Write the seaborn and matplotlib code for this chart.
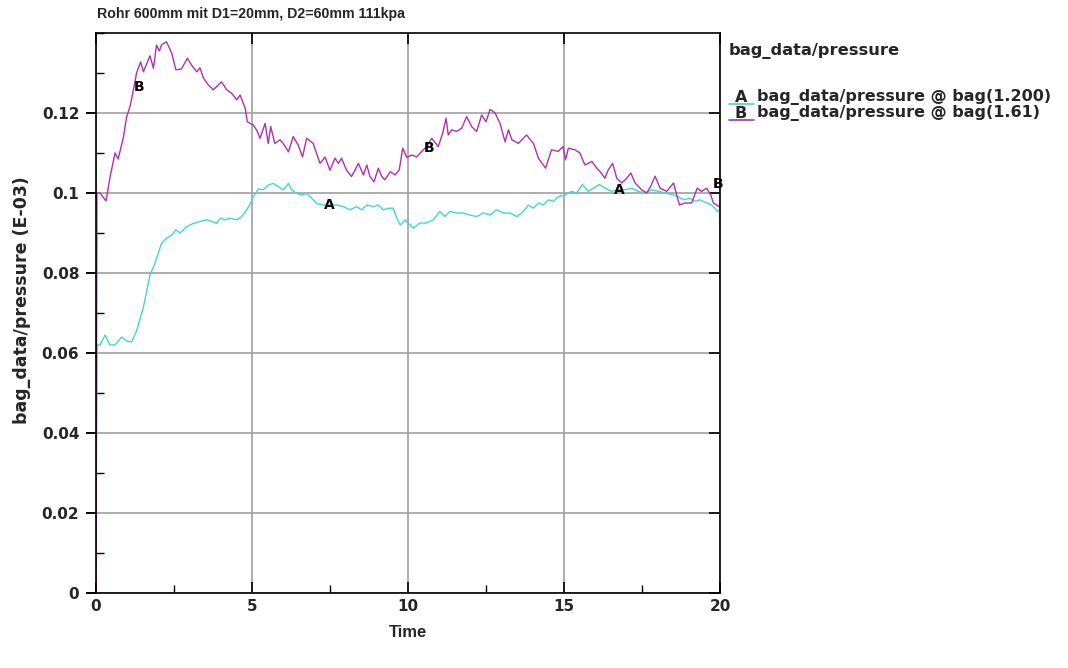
import matplotlib
matplotlib.use("Agg")
import matplotlib.pyplot as plt
from matplotlib.lines import Line2D
from matplotlib.markers import TICKLEFT
from matplotlib.ticker import MultipleLocator
import numpy as np
import pandas as pd
import seaborn as sns

# curve B: bag(1.61)
time_b = [0.00, 0.03, 0.13, 0.32, 0.45, 0.61, 0.71, 0.88, 0.98, 1.09, 1.20, 1.30, 1.43, 1.52,
          1.73, 1.84, 1.94, 2.03, 2.10, 2.26, 2.43, 2.56, 2.74, 2.93, 3.06, 3.23, 3.33, 3.44,
          3.60, 3.76, 3.92, 4.02, 4.19, 4.35, 4.51, 4.62, 4.78, 4.85, 4.94, 5.04, 5.15, 5.26,
          5.42, 5.52, 5.60, 5.73, 5.90, 6.00, 6.17, 6.32, 6.48, 6.62, 6.75, 6.96, 7.18, 7.34,
          7.50, 7.66, 7.77, 7.87, 8.03, 8.19, 8.41, 8.57, 8.68, 8.78, 8.91, 9.05, 9.16, 9.26,
          9.43, 9.59, 9.72, 9.83, 9.96, 10.12, 10.28, 10.44, 10.60, 10.76, 10.97, 11.11, 11.22,
          11.29, 11.40, 11.56, 11.72, 11.88, 12.04, 12.20, 12.36, 12.50, 12.63, 12.79, 12.95,
          13.11, 13.22, 13.33, 13.54, 13.80, 14.02, 14.18, 14.41, 14.60, 14.81, 14.97, 15.05,
          15.14, 15.35, 15.51, 15.67, 15.89, 16.05, 16.15, 16.31, 16.42, 16.56, 16.69, 16.85,
          17.01, 17.14, 17.28, 17.49, 17.65, 17.78, 17.92, 18.08, 18.29, 18.51, 18.70, 18.88,
          19.09, 19.27, 19.41, 19.57, 19.70, 19.79, 19.89, 20.00]
pres_b = [0.000, 0.100, 0.100, 0.098, 0.104, 0.110, 0.1085, 0.114, 0.119, 0.1216, 0.1258, 0.130,
          0.1328, 0.1303, 0.1343, 0.1312, 0.137, 0.1355, 0.137, 0.1378, 0.1349, 0.1308, 0.131,
          0.1337, 0.132, 0.1303, 0.1313, 0.1288, 0.127, 0.1258, 0.127, 0.1278, 0.1258, 0.1249,
          0.1233, 0.1245, 0.1212, 0.1178, 0.1174, 0.117, 0.1157, 0.1137, 0.1174, 0.1124, 0.1166,
          0.1124, 0.1133, 0.1124, 0.1103, 0.1141, 0.112, 0.109, 0.1137, 0.1124, 0.1074, 0.109,
          0.1057, 0.1087, 0.1074, 0.1087, 0.1057, 0.1041, 0.1074, 0.1045, 0.107, 0.1041, 0.1028,
          0.1062, 0.1041, 0.1033, 0.1053, 0.1045, 0.1058, 0.1112, 0.1089, 0.1095, 0.109, 0.1104,
          0.1116, 0.1137, 0.1116, 0.1149, 0.1187, 0.1145, 0.1158, 0.1154, 0.1162, 0.1191, 0.1166,
          0.1154, 0.1195, 0.1178, 0.1209, 0.120, 0.1174, 0.1128, 0.1158, 0.1133, 0.1124, 0.1145,
          0.1124, 0.1087, 0.1062, 0.1108, 0.1104, 0.1116, 0.1083, 0.1112, 0.1108, 0.110, 0.107,
          0.1079, 0.1062, 0.1054, 0.1037, 0.1058, 0.1074, 0.1037, 0.1025, 0.1037, 0.105, 0.1025,
          0.1008, 0.100, 0.1017, 0.1042, 0.1012, 0.1004, 0.1025, 0.097, 0.0975, 0.0975, 0.1012,
          0.1004, 0.1012, 0.0996, 0.0975, 0.097, 0.0965]

# curve A: bag(1.200)
time_a = [0.00, 0.03, 0.13, 0.29, 0.45, 0.61, 0.82, 0.98, 1.14, 1.30, 1.52, 1.73, 1.89, 2.10,
          2.26, 2.43, 2.56, 2.69, 2.91, 3.12, 3.33, 3.55, 3.72, 3.87, 3.98, 4.14, 4.30, 4.51,
          4.67, 4.83, 4.94, 5.04, 5.20, 5.36, 5.52, 5.68, 5.84, 6.00, 6.17, 6.27, 6.43, 6.59,
          6.75, 6.91, 7.07, 7.29, 7.50, 7.71, 7.93, 8.14, 8.35, 8.51, 8.68, 8.89, 9.05, 9.21,
          9.37, 9.53, 9.64, 9.75, 9.91, 10.07, 10.17, 10.38, 10.60, 10.81, 11.02, 11.18, 11.34,
          11.56, 11.77, 11.98, 12.20, 12.41, 12.63, 12.84, 13.06, 13.27, 13.49, 13.70, 13.86,
          14.02, 14.18, 14.34, 14.50, 14.66, 14.82, 15.03, 15.24, 15.40, 15.59, 15.78, 15.94,
          16.13, 16.31, 16.52, 16.74, 16.95, 17.17, 17.38, 17.60, 17.81, 18.03, 18.24, 18.46,
          18.67, 18.83, 19.04, 19.20, 19.36, 19.57, 19.73, 19.84, 19.91, 20.00]
pres_a = [0.015, 0.062, 0.062, 0.0645, 0.062, 0.062, 0.064, 0.063, 0.0628, 0.0655, 0.0715, 0.0795,
          0.0824, 0.0874, 0.0887, 0.0895, 0.0908, 0.090, 0.0916, 0.0924, 0.0929, 0.0933, 0.0929,
          0.0924, 0.0937, 0.0933, 0.0937, 0.0933, 0.0941, 0.0958, 0.0972, 0.099, 0.101, 0.1008,
          0.102, 0.1024, 0.1016, 0.1008, 0.1024, 0.1008, 0.0999, 0.0995, 0.0999, 0.0987, 0.0974,
          0.097, 0.097, 0.097, 0.0966, 0.0958, 0.0966, 0.0958, 0.097, 0.0966, 0.097, 0.0958,
          0.0962, 0.0962, 0.0937, 0.092, 0.0933, 0.092, 0.0912, 0.0925, 0.0925, 0.0933, 0.0954,
          0.0941, 0.0954, 0.095, 0.095, 0.0945, 0.0941, 0.095, 0.0945, 0.0958, 0.095, 0.095,
          0.0941, 0.0954, 0.097, 0.0962, 0.0975, 0.097, 0.0983, 0.0979, 0.0991, 0.0995, 0.1004,
          0.100, 0.1021, 0.1004, 0.1012, 0.1021, 0.1012, 0.1004, 0.1008, 0.1008, 0.1012, 0.1004,
          0.100, 0.1008, 0.1004, 0.100, 0.0996, 0.0991, 0.0983, 0.0987, 0.0979, 0.0983, 0.0975,
          0.097, 0.0962, 0.0954, 0.0958]

# where the curve letters sit
label_times_a = [7.47, 16.76]
label_times_b = [1.24, 10.55, 19.8]

x_ticks = [0, 5, 10, 15, 20]
y_ticks = [0, 0.02, 0.04, 0.06, 0.08, 0.1, 0.12]
y_tick_labels = ["0", "0.02", "0.04", "0.06", "0.08", "0.1", "0.12"]

color_a = "#40d8d0"
color_b = "#b030b0"

sns.set_style("white", {"xtick.bottom": True, "ytick.left": True})
plt.rcParams["font.family"] = ["DejaVu Sans"]
narrow = ["Liberation Sans", "DejaVu Sans"]

df_a = pd.DataFrame({"time": time_a, "pressure": pres_a})
df_b = pd.DataFrame({"time": time_b, "pressure": pres_b})

fig = plt.figure(figsize=(10.68, 6.68), dpi=100)
ax = fig.add_axes([96 / 1068, 1 - 593 / 668, 624 / 1068, 560 / 668])

sns.lineplot(data=df_a, x="time", y="pressure", color=color_a, lw=1.0, ax=ax,
             estimator=None, sort=False)
sns.lineplot(data=df_b, x="time", y="pressure", color=color_b, lw=1.0, ax=ax,
             estimator=None, sort=False)

for t in label_times_a:
    ax.annotate("A", (t, np.interp(t, time_a, pres_a)), ha="center", va="center",
                fontsize=10, fontweight="bold", color="black")
for t, dy in zip(label_times_b, [-3, 0, 14]):
    ax.annotate("B", (t, np.interp(t, time_b, pres_b)), xytext=(3, dy),
                textcoords="offset points", ha="center", va="center",
                fontsize=10, fontweight="bold", color="black")

ax.set_xlim(0, 20)
ax.set_ylim(0, 0.14)
ax.set_xticks(x_ticks)
ax.set_xticklabels([str(v) for v in x_ticks])
ax.set_yticks(y_ticks)
ax.set_yticklabels(y_tick_labels)
ax.xaxis.set_minor_locator(MultipleLocator(2.5))
ax.yaxis.set_minor_locator(MultipleLocator(0.01))
ax.grid(True, which="major", color="#a0a0a0", lw=1.2)

ax.tick_params(axis="x", which="major", direction="in", length=8, width=1.2,
               color="black", labelsize=11, top=True, bottom=True, pad=4)
ax.tick_params(axis="y", which="major", direction="in", length=8, width=1.2,
               color="black", labelsize=11, left=False, right=True, pad=12)
ax.tick_params(axis="both", which="minor", direction="in", length=6, width=1,
               color="black", bottom=True, left=True, top=False, right=False)
# short outward ticks next to the y labels
ax.plot(np.zeros(len(y_ticks)), y_ticks, ls="none", marker=TICKLEFT, ms=7, mew=1.4,
        color="black", transform=ax.get_yaxis_transform(), clip_on=False, zorder=5)

for lab in ax.get_xticklabels() + ax.get_yticklabels():
    lab.set_fontweight("bold")
for s in ax.spines.values():
    s.set_visible(True)
    s.set_color("black")
    s.set_linewidth(1.2)

ax.set_xlabel("Time", fontsize=12, fontweight="bold", family=narrow, labelpad=8)
ax.set_ylabel("bag_data/pressure (E-03)", fontsize=12.5, fontweight="bold")
ax.yaxis.set_label_coords(-0.104, 0.523)

fig.text(97 / 1068, 1 - 14 / 668, "Rohr 600mm mit D1=20mm, D2=60mm 111kpa",
         ha="left", va="center", fontsize=10.2, fontweight="bold", family=narrow)

# legend drawn by hand, letter over a short coloured line
fig.text(729 / 1068, 1 - 51 / 668, "bag_data/pressure", ha="left", va="center",
         fontsize=11.7, fontweight="bold")
for i, (letter, name, col) in enumerate([("A", "bag_data/pressure @ bag(1.200)", color_a),
                                         ("B", "bag_data/pressure @ bag(1.61)", color_b)]):
    yc = 97 + 16 * i
    fig.add_artist(Line2D([729 / 1068, 754 / 1068], [1 - (yc + 7) / 668, 1 - (yc + 7) / 668],
                          color=col, lw=1.2))
    fig.text(741 / 1068, 1 - yc / 668, letter, ha="center", va="center",
             fontsize=11.5, fontweight="bold")
    fig.text(757 / 1068, 1 - yc / 668, name, ha="left", va="center",
             fontsize=11.5, fontweight="bold")

fig.savefig("out.png", dpi=100)
